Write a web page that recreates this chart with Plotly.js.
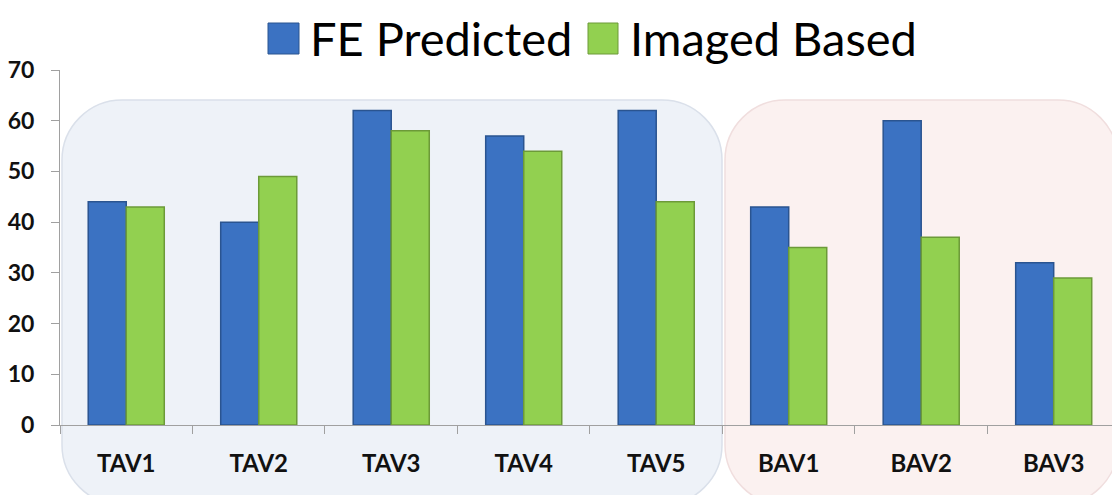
<!DOCTYPE html>
<html>
<head>
<meta charset="utf-8">
<script src="https://cdn.plot.ly/plotly-3.0.1.min.js"></script>
<style>html,body{margin:0;padding:0;background:#fff;}#chart{width:1112px;height:495px;}</style>
</head>
<body>
<div id="chart"></div>
<script>
const categories = ["TAV1", "TAV2", "TAV3", "TAV4", "TAV5", "BAV1", "BAV2", "BAV3"];
const seriesNames = ["FE Predicted", "Imaged Based"];
const fePredicted = [44, 40, 62, 57, 62, 43, 60, 32];
const imagedBased = [43, 49, 58, 54, 44, 35, 37, 29];
const yTickValues = [0, 10, 20, 30, 40, 50, 60, 70];

const W = 1112, H = 495;
const M = {l: 60, r: 0, t: 70, b: 70};
const PW = W - M.l - M.r, PH = H - M.t - M.b;
function px(x) { return (x - M.l) / PW; }
function py(y) { return (H - M.b - y) / PH; }

function roundRect(x0, y0, x1, y1, r) {
  const k = 0.45;
  const pts = [
    ['M', x0 + r, y0],
    ['L', x1 - r, y0],
    ['C', x1 - r * k, y0, x1, y0 + r * k, x1, y0 + r],
    ['L', x1, y1 - r],
    ['C', x1, y1 - r * k, x1 - r * k, y1, x1 - r, y1],
    ['L', x0 + r, y1],
    ['C', x0 + r * k, y1, x0, y1 - r * k, x0, y1 - r],
    ['L', x0, y0 + r],
    ['C', x0, y0 + r * k, x0 + r * k, y0, x0 + r, y0]
  ];
  return pts.map(p => {
    const cmd = p[0];
    const nums = p.slice(1);
    const out = [];
    for (let i = 0; i < nums.length; i += 2) out.push(px(nums[i]).toFixed(5) + ',' + py(nums[i + 1]).toFixed(5));
    return cmd + out.join(' ');
  }).join(' ') + ' Z';
}

const blue = '#3b72c2';
const green = '#92d050';

const traces = [
  {type: 'bar', name: seriesNames[0], x: categories, y: fePredicted,
   marker: {color: blue, line: {color: '#2a5490', width: 1.5}}, showlegend: false},
  {type: 'bar', name: seriesNames[1], x: categories, y: imagedBased,
   marker: {color: green, line: {color: '#6c9a38', width: 1.5}}, showlegend: false}
];

const shapes = [
  {type: 'path', xref: 'paper', yref: 'paper', layer: 'below',
   path: roundRect(62, 100, 722, 505, 60),
   fillcolor: '#eef2f8', line: {color: '#dae0ea', width: 1.5}},
  {type: 'path', xref: 'paper', yref: 'paper', layer: 'below',
   path: roundRect(725, 100, 1118, 505, 60),
   fillcolor: '#fbf1f0', line: {color: '#f0dede', width: 1.5}},
  {type: 'rect', xref: 'paper', yref: 'paper',
   x0: px(268), x1: px(299), y0: py(54), y1: py(23),
   fillcolor: blue, line: {color: '#2a5490', width: 1}},
  {type: 'rect', xref: 'paper', yref: 'paper',
   x0: px(588), x1: px(618), y0: py(54), y1: py(23),
   fillcolor: green, line: {color: '#6c9a38', width: 1}}
];

const annotations = [
  {xref: 'paper', yref: 'paper', x: px(308), y: py(38), xanchor: 'left', yanchor: 'middle',
   text: seriesNames[0], showarrow: false, font: {family: 'Lato, sans-serif', size: 47, color: '#000'}},
  {xref: 'paper', yref: 'paper', x: px(628), y: py(38), xanchor: 'left', yanchor: 'middle',
   text: seriesNames[1], showarrow: false, font: {family: 'Lato, sans-serif', size: 47, color: '#000'}}
];

const layout = {
  width: W, height: H,
  margin: M,
  paper_bgcolor: '#ffffff',
  plot_bgcolor: 'rgba(0,0,0,0)',
  barmode: 'group',
  bargap: 0.426,
  bargroupgap: 0,
  showlegend: false,
  xaxis: {
    type: 'category',
    range: [-0.5, 7.44],
    showline: true, linecolor: '#a0a0a0', linewidth: 1,
    ticks: 'outside', ticklen: 8, tickcolor: '#a0a0a0', tickson: 'boundaries',
    ticklabelstandoff: 17,
    tickfont: {family: 'Lato, sans-serif', size: 24, color: '#111', weight: 'bold'},
    showgrid: false, zeroline: false, fixedrange: true
  },
  yaxis: {
    range: [0, 70],
    tickvals: yTickValues,
    showline: true, linecolor: '#a0a0a0', linewidth: 1,
    ticks: 'outside', ticklen: 8, tickcolor: '#a0a0a0',
    ticklabelstandoff: 12,
    tickfont: {family: 'Lato, sans-serif', size: 23, color: '#111', weight: 'bold'},
    showgrid: false, zeroline: false, fixedrange: true
  },
  shapes: shapes,
  annotations: annotations
};

Plotly.newPlot('chart', traces, layout, {displayModeBar: false, staticPlot: true});
</script>
</body>
</html>
